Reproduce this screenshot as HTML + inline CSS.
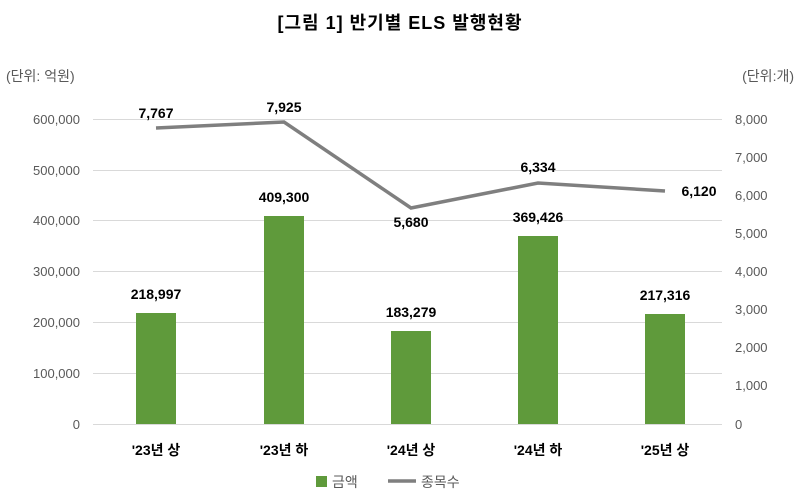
<!DOCTYPE html>
<html><head><meta charset="utf-8"><style>
body{margin:0;background:#fff;width:800px;height:499px;overflow:hidden}
text{font-family:"Liberation Sans","Noto Sans CJK KR",sans-serif}
</style></head><body>
<svg width="800" height="499" viewBox="0 0 800 499">
<text x="400" y="29" text-anchor="middle" font-size="18" font-weight="bold" fill="#000" letter-spacing="1">[그림 1] 반기별 ELS 발행현황</text>
<text x="6" y="81" font-size="14" fill="#595959">(단위: 억원)</text>
<text x="794" y="81" text-anchor="end" font-size="14" fill="#595959">(단위:개)</text>
<g stroke="#d9d9d9" stroke-width="1">
<line x1="93" x2="722" y1="119.5" y2="119.5"/><line x1="93" x2="722" y1="170.5" y2="170.5"/>
<line x1="93" x2="722" y1="220.5" y2="220.5"/><line x1="93" x2="722" y1="271.5" y2="271.5"/>
<line x1="93" x2="722" y1="322.5" y2="322.5"/><line x1="93" x2="722" y1="373.5" y2="373.5"/>
<line x1="93" x2="722" y1="424.5" y2="424.5"/>
</g>
<g font-size="13" fill="#595959" text-anchor="end">
<text x="80" y="124">600,000</text><text x="80" y="175">500,000</text><text x="80" y="225">400,000</text>
<text x="80" y="276">300,000</text><text x="80" y="327">200,000</text><text x="80" y="378">100,000</text><text x="80" y="429">0</text>
</g>
<g font-size="13" fill="#595959">
<text x="735" y="124">8,000</text><text x="735" y="162">7,000</text><text x="735" y="200">6,000</text>
<text x="735" y="238">5,000</text><text x="735" y="276">4,000</text><text x="735" y="314">3,000</text>
<text x="735" y="352">2,000</text><text x="735" y="390">1,000</text><text x="735" y="429">0</text>
</g>
<g fill="#5f9a3b">
<rect x="136" y="313" width="40" height="111"/><rect x="264" y="216" width="40" height="208"/>
<rect x="391" y="331" width="40" height="93"/><rect x="518" y="236" width="40" height="188"/>
<rect x="645" y="314" width="40" height="110"/>
</g>
<polyline points="156,128 284,122 411,208 538,183 665,191" fill="none" stroke="#7f7f7f" stroke-width="3.5"/>
<g font-size="14" font-weight="bold" fill="#000" text-anchor="middle">
<text x="156" y="299">218,997</text><text x="284" y="202">409,300</text><text x="411" y="317">183,279</text>
<text x="538" y="222">369,426</text><text x="665" y="300">217,316</text>
<text x="156" y="118">7,767</text><text x="284" y="112">7,925</text><text x="411" y="227">5,680</text>
<text x="538" y="172">6,334</text><text x="699" y="196">6,120</text>
<text x="156" y="455">'23년 상</text><text x="284" y="455">'23년 하</text><text x="411" y="455">'24년 상</text>
<text x="538" y="455">'24년 하</text><text x="665" y="455">'25년 상</text>
</g>
<rect x="316" y="476" width="11" height="11" fill="#5f9a3b"/>
<text x="332" y="487" font-size="14" fill="#595959">금액</text>
<line x1="388" x2="416" y1="481" y2="481" stroke="#7f7f7f" stroke-width="3.5"/>
<text x="421" y="487" font-size="14" fill="#595959">종목수</text>
</svg>
</body></html>
